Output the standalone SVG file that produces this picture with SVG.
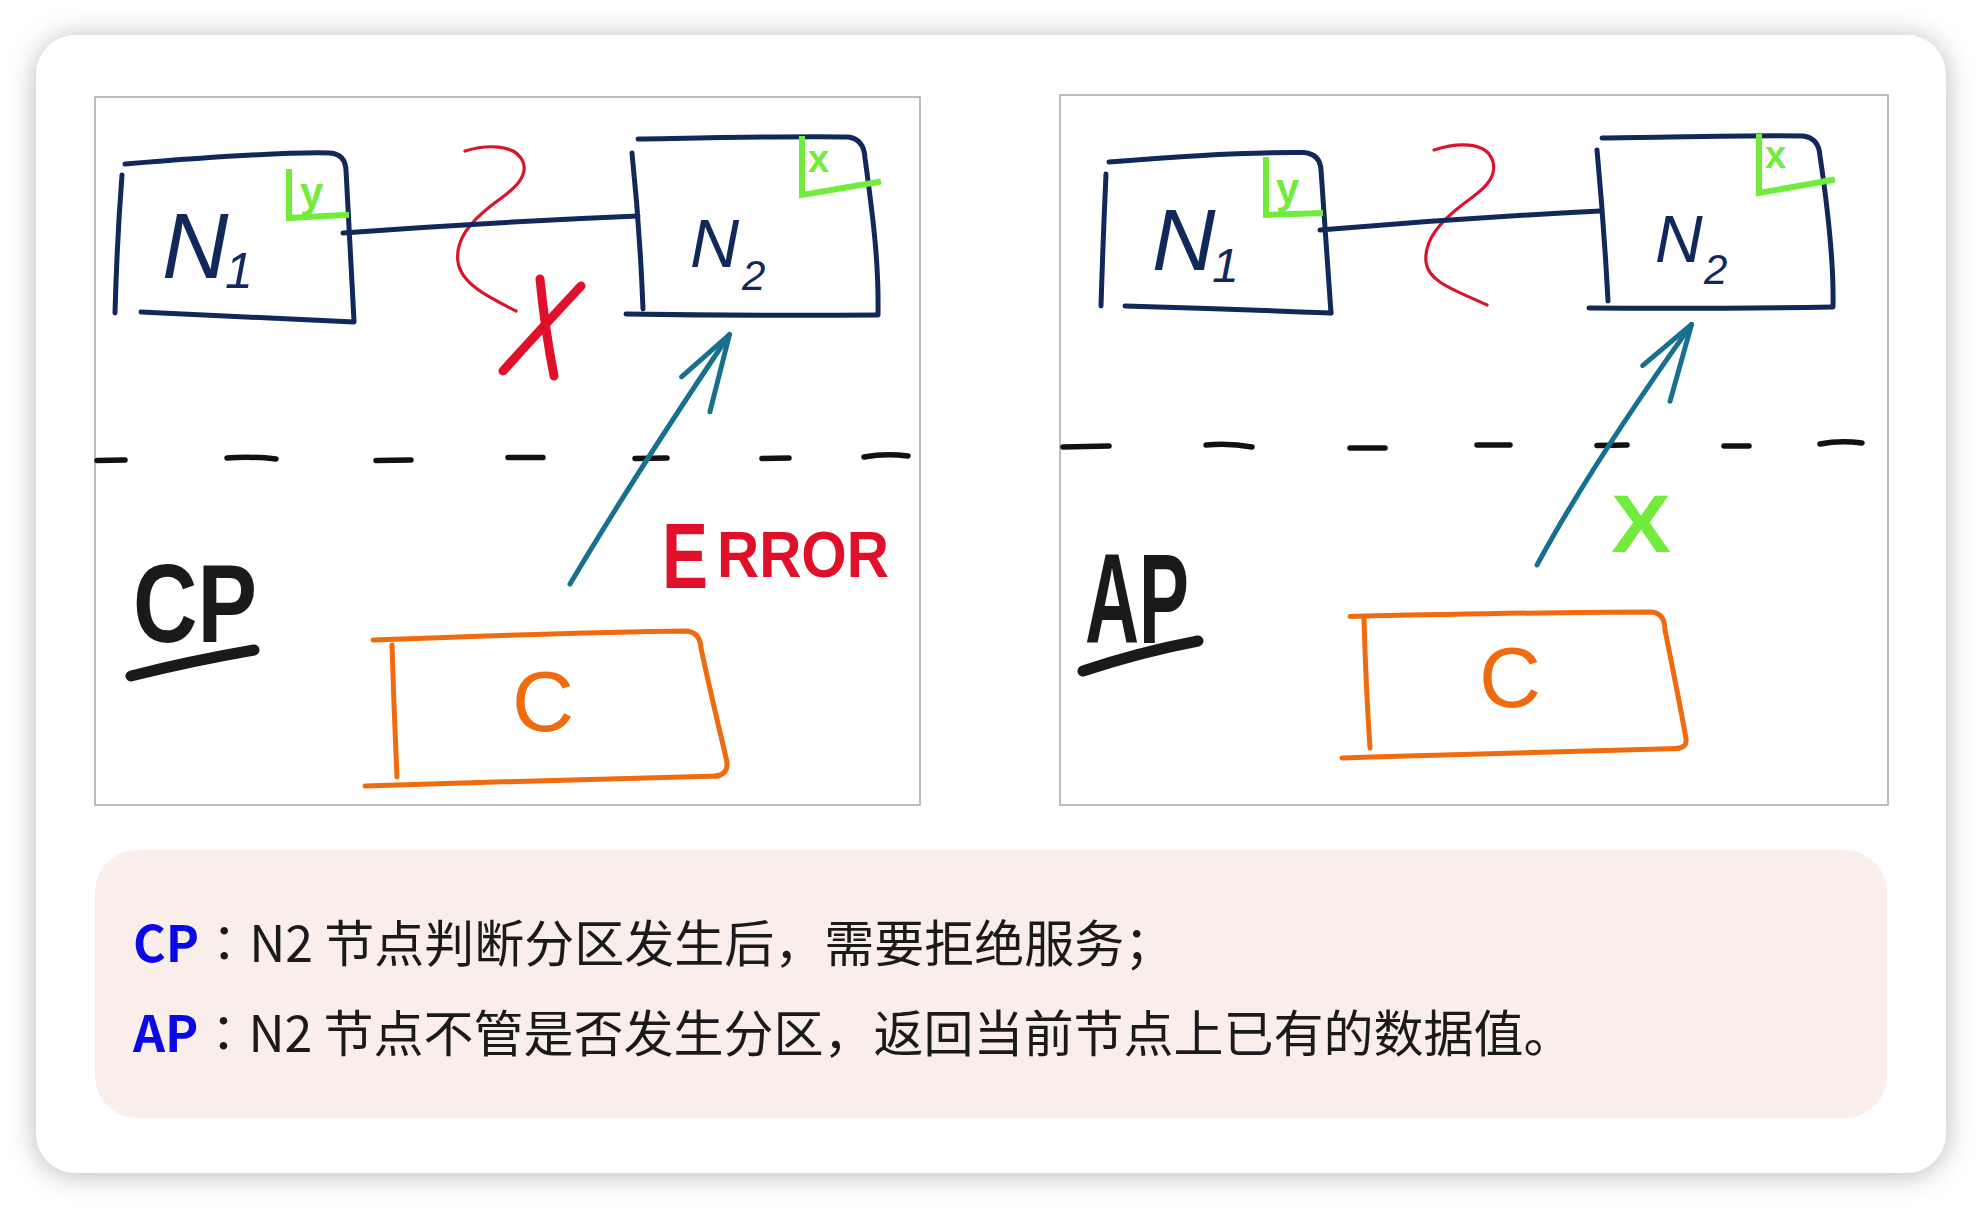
<svg xmlns="http://www.w3.org/2000/svg" width="1982" height="1208" viewBox="0 0 1982 1208">
<style>
.navy{fill:none;stroke:#13285a;stroke-width:5;stroke-linecap:round;stroke-linejoin:round}
.grn{fill:none;stroke:#72ec3c;stroke-width:6;stroke-linecap:square;stroke-linejoin:miter}
.sq{fill:none;stroke:#d9142b;stroke-width:3.2;stroke-linecap:round}
.cross{fill:none;stroke:#e0102a;stroke-width:9;stroke-linecap:round}
.org{fill:none;stroke:#f06a10;stroke-width:5;stroke-linecap:round;stroke-linejoin:round}
.dash{fill:none;stroke:#111;stroke-width:5.5;stroke-linecap:round}
.arrow{fill:none;stroke:#17708e;stroke-width:5;stroke-linecap:round}
.ul{fill:none;stroke:#1a1a1a;stroke-width:11;stroke-linecap:round}
.hw{font-family:"Liberation Sans",Arial,sans-serif}
.nlab{fill:#13285a;font-style:italic}
.cap{font-family:"Noto Sans CJK SC","Noto Sans",sans-serif;font-size:50px;fill:#1a1a1a}
.col{font-family:"Noto Sans CJK TC","Noto Sans CJK SC",sans-serif}
.kw{fill:#0a0ae6;font-weight:bold}
</style>
<defs>
<filter id="sh" x="-5%" y="-5%" width="110%" height="110%">
<feDropShadow dx="0" dy="2" stdDeviation="14" flood-color="#000" flood-opacity="0.28"/>
</filter>
<marker id="head" markerUnits="userSpaceOnUse" orient="auto" markerWidth="100" markerHeight="100" viewBox="-90 -50 100 100" refX="0" refY="0" overflow="visible">
<path d="M-62,-16 L0,0 L-75,27" fill="none" stroke="#17708e" stroke-width="5" stroke-linecap="round" stroke-linejoin="round"/>
</marker>
</defs>
<rect width="1982" height="1208" fill="#ffffff"/>
<rect x="36" y="35" width="1910" height="1138" rx="40" fill="#ffffff" filter="url(#sh)"/>

<g id="panel-cp">
<rect x="95" y="97" width="825" height="708" fill="#fff" stroke="#a8a8a8" stroke-width="1.5"/>
<g id="cp-partition">
<path class="dash" d="M97,460.5 L125,460 M227,458 Q250,456 276,459 M376,460.5 L411,460 M508,457.5 L543,457.5 M635,458.5 L667,458 M762,458.5 L789,458 M864,457 Q885,453 908,456"/>
</g>
<g id="cp-n1">
<path class="navy" d="M125,164 C210,157 290,152 330,153 Q345,154 346,170 L354,321"/>
<path class="navy" d="M141,312 Q250,317 354,322"/>
<path class="navy" d="M122,175 Q117,240 115,313"/>
<path class="grn" d="M289,172 L289,218 L346,215"/>
<text class="hw" x="300" y="207" font-size="42" font-weight="bold" fill="#72ec3c">y</text>
<text class="hw nlab" x="162" y="278" font-size="92">N</text>
<text class="hw nlab" x="225" y="288" font-size="50">1</text>
</g>
<g id="cp-n2">
<path class="navy" d="M638,139 C700,138 790,136 848,137 Q864,139 865,158 C872,210 879,260 878,314"/>
<path class="navy" d="M626,314 Q750,316 878,315"/>
<path class="navy" d="M632,153 Q640,230 643,309"/>
<path class="grn" d="M802,139 L802,195 L878,182"/>
<text class="hw" x="808" y="172" font-size="38" font-weight="bold" fill="#72ec3c">x</text>
<text class="hw nlab" x="690" y="267" font-size="68">N</text>
<text class="hw nlab" x="742" y="290" font-size="42">2</text>
</g>
<g id="cp-break">
<path class="sq" d="M465,151 C485,145 515,143 523,162 C530,180 505,195 492,205 C470,222 455,240 458,262 C461,284 490,298 516,311"/>
<path class="cross" d="M540,279 Q545,330 554,376 M581,286 Q540,330 503,371"/>
</g>
<g id="cp-c">
<path class="org" d="M373,640 C480,636 600,632 686,631 Q700,632 701,648 C712,700 722,740 727,762 Q728,775 715,776"/>
<path class="org" d="M365,786 C480,782 620,779 719,776"/>
<path class="org" d="M392,645 Q394,710 397,777"/>
<text class="hw" x="512" y="731" font-size="86" fill="#f06a10">C</text>
</g>
<g id="cp-label">
<text class="hw" x="133" y="642" font-size="112" font-weight="bold" fill="#1a1a1a" textLength="124" lengthAdjust="spacingAndGlyphs">CP</text>
<path class="ul" d="M131,676 Q190,661 254,650"/>
</g>
<g id="cp-error">
<text class="hw" font-weight="bold" fill="#e0102a"><tspan x="662" y="588" font-size="92" textLength="46" lengthAdjust="spacingAndGlyphs">E</tspan><tspan x="717" y="577" font-size="64" textLength="172" lengthAdjust="spacingAndGlyphs">RROR</tspan></text>
</g>
</g>

<g id="panel-ap">
<rect x="1060" y="95" width="828" height="710" fill="#fff" stroke="#a8a8a8" stroke-width="1.5"/>
<g id="ap-partition">
<path class="dash" d="M1063,447 L1109,446 M1206,445 Q1230,443 1252,447 M1350,448 L1385,448 M1477,445 L1510,445 M1597,445.5 L1627,445 M1724,446 L1749,446 M1820,444 Q1840,440 1862,443"/>
</g>
<g id="ap-n1">
<path class="navy" d="M1109,162 C1180,156 1260,152 1304,152.5 Q1320,154 1321,170 L1331,313"/>
<path class="navy" d="M1125,306 Q1230,309 1331,313"/>
<path class="navy" d="M1106,174 Q1103,240 1101,306"/>
<path class="grn" d="M1266,160 L1266,215 L1320,213"/>
<text class="hw" x="1276" y="203" font-size="42" font-weight="bold" fill="#72ec3c">y</text>
<text class="hw nlab" x="1152" y="270" font-size="88">N</text>
<text class="hw nlab" x="1212" y="282" font-size="48">1</text>
</g>
<g id="ap-n2">
<path class="navy" d="M1602,138 C1680,137 1760,135 1803,136 Q1819,138 1820,156 C1828,210 1834,260 1833,306"/>
<path class="navy" d="M1589,308 Q1710,309 1833,307"/>
<path class="navy" d="M1597,150 Q1604,225 1608,301"/>
<path class="grn" d="M1759,137 L1759,193 L1832,180"/>
<text class="hw" x="1765" y="168" font-size="38" font-weight="bold" fill="#72ec3c">x</text>
<text class="hw nlab" x="1655" y="262" font-size="66">N</text>
<text class="hw nlab" x="1704" y="284" font-size="42">2</text>
</g>
<g id="ap-break">
<path class="sq" d="M1434,150 C1455,143 1487,140 1493,162 C1498,182 1475,195 1462,205 C1440,222 1424,240 1426,262 C1428,283 1460,292 1487,305"/>
</g>
<g id="ap-c">
<path class="org" d="M1350,616.5 C1460,614 1580,612 1651,612 Q1665,613 1665,630 C1675,680 1683,720 1686,739 Q1687,748 1676,748.5"/>
<path class="org" d="M1342,758 C1460,754 1580,751 1678,748.5"/>
<path class="org" d="M1364,619 Q1366,690 1370,748"/>
<text class="hw" x="1479" y="707" font-size="86" fill="#f06a10">C</text>
</g>
<g id="ap-label">
<text class="hw" x="1085" y="643" font-size="128" font-weight="bold" fill="#1a1a1a" textLength="104" lengthAdjust="spacingAndGlyphs">AP</text>
<path class="ul" d="M1083,671 Q1140,652 1198,641"/>
</g>
<g id="ap-value">
<text class="hw" x="1611" y="552" font-size="82" font-weight="bold" fill="#72ec3c" textLength="60" lengthAdjust="spacingAndGlyphs">X</text>
</g>
</g>

<g id="connectors">
<path class="navy" d="M343,233 Q490,222 638,216"/>
<path class="navy" d="M1320,230 Q1460,218 1600,211"/>
<path class="arrow" d="M570,584 Q636,473 729.5,334.5" marker-end="url(#head)"/>
<path class="arrow" d="M1537,565 Q1590,467 1691.6,324.4" marker-end="url(#head)"/>
</g>

<g id="caption">
<rect x="95" y="850" width="1792" height="268" rx="42" fill="#f9eeea"/>
<text class="cap" x="133" y="962"><tspan class="kw">CP</tspan><tspan class="col">：</tspan>N2 节点判断分区发生后，需要拒绝服务；</text>
<text class="cap" x="133" y="1052"><tspan class="kw">AP</tspan><tspan class="col">：</tspan>N2 节点不管是否发生分区，返回当前节点上已有的数据值。</text>
</g>
</svg>
